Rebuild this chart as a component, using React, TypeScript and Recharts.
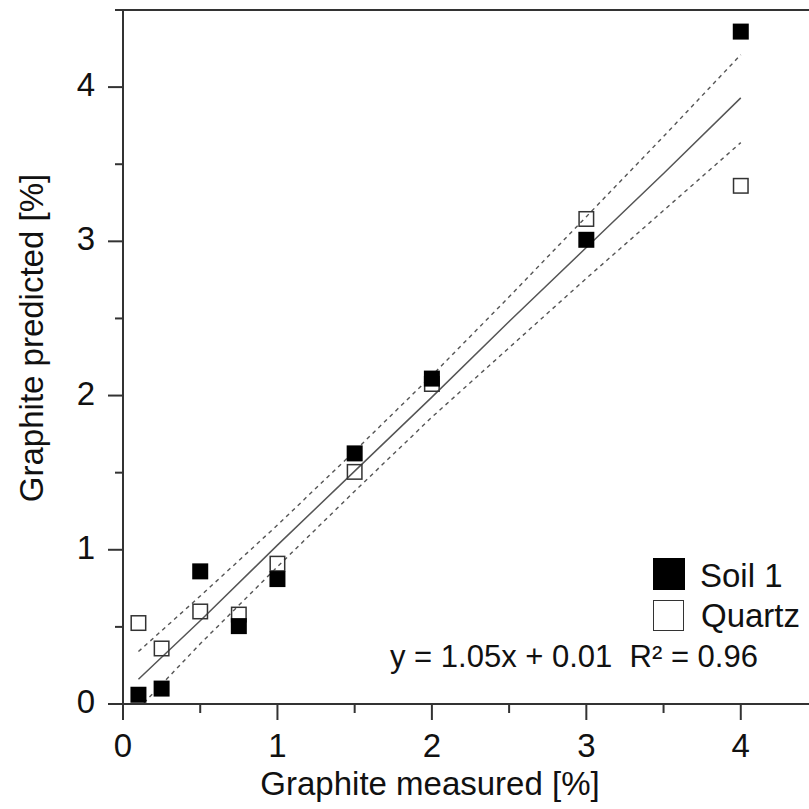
import React from 'react';
import { ComposedChart, Scatter, Line, XAxis, YAxis, ReferenceLine, Legend, Label } from 'recharts';

const FONT = "'Liberation Sans', Arial, Helvetica, sans-serif";

// Measured graphite content [%]
const measured = [0.1, 0.25, 0.5, 0.75, 1, 1.5, 2, 3, 4];
// Predicted values
const soil1 = [0.06, 0.1, 0.86, 0.505, 0.81, 1.625, 2.11, 3.01, 4.36];
const quartz = [0.525, 0.36, 0.6, 0.58, 0.91, 1.505, 2.075, 3.145, 3.36];

// Regression line and confidence band
const bandX = [0.1, 0.5, 1, 1.5, 2, 2.5, 3, 3.5, 4];
const fitY = [0.16, 0.54, 1.03, 1.51, 1.99, 2.48, 2.96, 3.44, 3.93];
const upperY = [0.34, 0.7, 1.16, 1.64, 2.13, 2.64, 3.16, 3.68, 4.21];
const lowerY = [-0.03, 0.39, 0.89, 1.38, 1.86, 2.31, 2.76, 3.2, 3.64];

const xTicks = [0, 0.5, 1, 1.5, 2, 2.5, 3, 3.5, 4];
const yTicks = [0, 0.5, 1, 1.5, 2, 2.5, 3, 3.5, 4, 4.5];
const majorTicks = [0, 1, 2, 3, 4];

const legendNames = ['Soil 1', 'Quartz'];
const equationText = 'y = 1.05x + 0.01\u00a0\u00a0R\u00b2 = 0.96';
const xTitle = 'Graphite measured [%]';
const yTitle = 'Graphite predicted [%]';

const soilData = measured.map((x, i) => ({ x, y: soil1[i] }));
const quartzData = measured.map((x, i) => ({ x, y: quartz[i] }));
const fitData = bandX.map((x, i) => ({ x, y: fitY[i] }));
const upperData = bandX.map((x, i) => ({ x, y: upperY[i] }));
const lowerData = bandX.map((x, i) => ({ x, y: lowerY[i] }));

const AXIS = '#333';

const XTick = (props: any) => {
  const { x, y, payload } = props;
  const v = payload.value;
  const major = majorTicks.includes(v);
  return (
    <g>
      <line x1={x} x2={x} y1={y} y2={y + (major ? 16 : 9)} stroke={AXIS} strokeWidth={2} />
      {major && (
        <text x={x} y={y + 53} textAnchor="middle" fontSize={33} fill="#111" fontFamily={FONT}>
          {v}
        </text>
      )}
    </g>
  );
};

const YTick = (props: any) => {
  const { x, y, payload } = props;
  const v = payload.value;
  const major = majorTicks.includes(v);
  return (
    <g>
      <line x1={x - (major ? 15 : 8)} x2={x} y1={y} y2={y} stroke={AXIS} strokeWidth={2} />
      {major && (
        <text x={x - 28} y={y + 9} textAnchor="end" fontSize={33} fill="#111" fontFamily={FONT}>
          {v}
        </text>
      )}
    </g>
  );
};

const FilledSquare = (p: any) => (
  <rect x={p.cx - 8} y={p.cy - 8} width={16} height={16} fill="#000" />
);
const OpenSquare = (p: any) => (
  <rect x={p.cx - 7.25} y={p.cy - 7.25} width={14.5} height={14.5} fill="none" stroke="#333" strokeWidth={1.5} />
);

const LegendContent = () => (
  <div style={{ position: 'relative', fontFamily: FONT, color: '#111' }}>
    <div style={{ position: 'absolute', left: 653, top: 558, width: 32, height: 32, background: '#000' }} />
    <div style={{ position: 'absolute', left: 700, top: 559, fontSize: 33, lineHeight: '33px', whiteSpace: 'nowrap' }}>
      {legendNames[0]}
    </div>
    <div
      style={{
        position: 'absolute',
        left: 653,
        top: 600,
        width: 29,
        height: 29,
        border: '1.5px solid #333',
        background: '#fff',
      }}
    />
    <div style={{ position: 'absolute', left: 701, top: 599, fontSize: 33, lineHeight: '33px', whiteSpace: 'nowrap' }}>
      {legendNames[1]}
    </div>
    <div style={{ position: 'absolute', left: 390, top: 641, fontSize: 31, lineHeight: '31px', whiteSpace: 'pre' }}>
      {equationText}
    </div>
  </div>
);

export default function App() {
  return (
    <div
      style={{
        position: 'fixed',
        left: 0,
        top: 0,
        width: 809,
        height: 809,
        overflow: 'hidden',
        background: '#fff',
      }}
    >
      <ComposedChart width={830} height={809} margin={{ top: 10, right: 12, bottom: 0, left: 0 }}>
        <XAxis
          type="number"
          dataKey="x"
          domain={[0, 4.5]}
          allowDataOverflow
          ticks={xTicks}
          interval={0}
          tickSize={0}
          tickMargin={0}
          tickLine={false}
          tick={<XTick />}
          height={105}
          axisLine={{ stroke: AXIS, strokeWidth: 2 }}
        >
          <Label
            content={() => (
              <text x={430} y={795} textAnchor="middle" fontSize={33} fill="#111" fontFamily={FONT}>
                {xTitle}
              </text>
            )}
          />
        </XAxis>
        <YAxis
          type="number"
          dataKey="y"
          domain={[0, 4.5]}
          allowDataOverflow
          ticks={yTicks}
          interval={0}
          tickSize={0}
          tickMargin={0}
          tickLine={false}
          tick={<YTick />}
          width={123}
          axisLine={{ stroke: AXIS, strokeWidth: 2 }}
        >
          <Label
            content={() => (
              <text
                transform="translate(43,338) rotate(-90)"
                textAnchor="middle"
                fontSize={33}
                fill="#111"
                fontFamily={FONT}
              >
                {yTitle}
              </text>
            )}
          />
        </YAxis>
        <ReferenceLine y={4.5} stroke={AXIS} strokeWidth={2} />
        <ReferenceLine x={4.5} stroke={AXIS} strokeWidth={2} />
        <Line data={upperData} dataKey="y" type="linear" dot={false} stroke="#555" strokeWidth={1.4} strokeDasharray="4 4" isAnimationActive={false} legendType="none" />
        <Line data={lowerData} dataKey="y" type="linear" dot={false} stroke="#555" strokeWidth={1.4} strokeDasharray="4 4" isAnimationActive={false} legendType="none" />
        <Line data={fitData} dataKey="y" type="linear" dot={false} stroke="#555" strokeWidth={1.5} isAnimationActive={false} legendType="none" />
        <Scatter name="Quartz" data={quartzData} shape={<OpenSquare />} isAnimationActive={false} />
        <Scatter name="Soil 1" data={soilData} shape={<FilledSquare />} isAnimationActive={false} />
        <Legend
          layout="vertical"
          align="center"
          verticalAlign="middle"
          wrapperStyle={{ position: 'absolute', left: 0, top: 0, width: 0, height: 0 }}
          content={<LegendContent />}
        />
      </ComposedChart>
    </div>
  );
}
